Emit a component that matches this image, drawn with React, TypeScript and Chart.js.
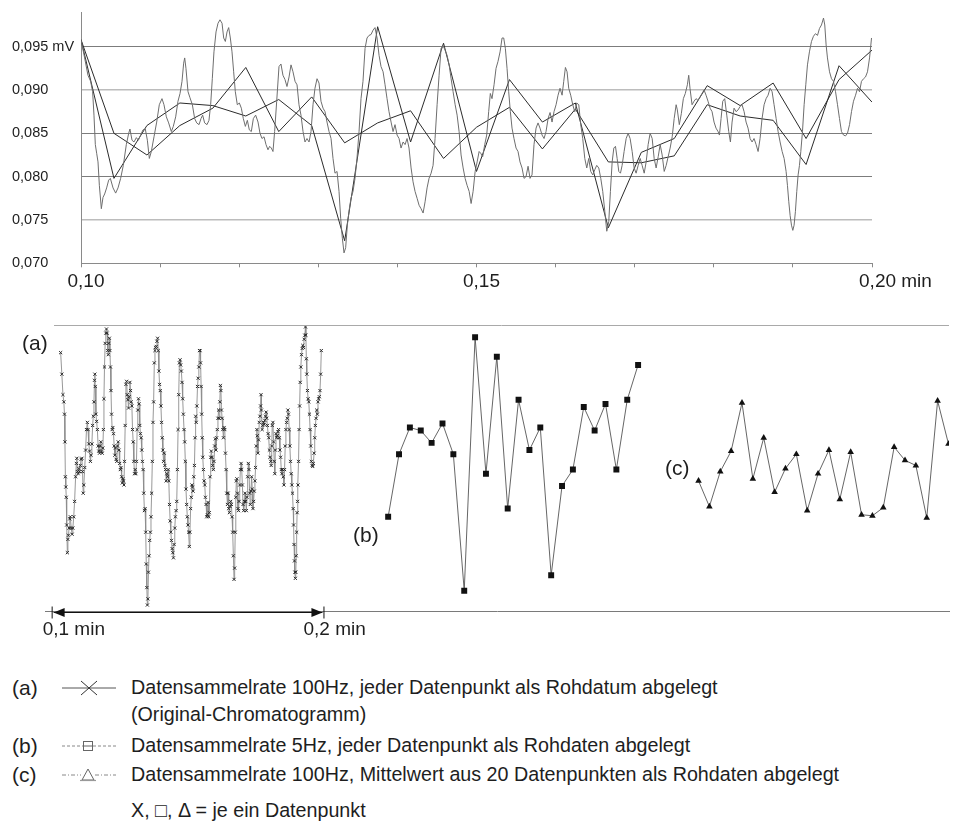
import React, { useEffect, useRef } from "react";
import { Chart, registerables } from "chart.js";

Chart.register(...registerables);

const FONT = "'Liberation Sans', Arial, Helvetica, sans-serif";
const INK = "#1e1e1e";

// Raw detector signal, 100 Hz, [time in min, signal in mV]
const rawTrace: [number, number][] = [
  [0.10000, 0.0958], [0.10046, 0.0937], [0.10088, 0.0917], [0.10122, 0.0910], [0.10147, 0.0898],
  [0.10164, 0.0871], [0.10181, 0.0837], [0.10198, 0.0827], [0.10215, 0.0817], [0.10232, 0.0790],
  [0.10257, 0.0763], [0.10278, 0.0776], [0.10299, 0.0780], [0.10324, 0.0787], [0.10350, 0.0796],
  [0.10371, 0.0798], [0.10405, 0.0787], [0.10438, 0.0781], [0.10468, 0.0787], [0.10501, 0.0798],
  [0.10535, 0.0813], [0.10573, 0.0837], [0.10603, 0.0850], [0.10619, 0.0855], [0.10645, 0.0842],
  [0.10670, 0.0840], [0.10700, 0.0845], [0.10725, 0.0842], [0.10754, 0.0848], [0.10784, 0.0854],
  [0.10813, 0.0855], [0.10839, 0.0842], [0.10864, 0.0821], [0.10889, 0.0829], [0.10923, 0.0846],
  [0.10957, 0.0863], [0.10990, 0.0883], [0.11024, 0.0890], [0.11049, 0.0883], [0.11079, 0.0869],
  [0.11108, 0.0862], [0.11142, 0.0852], [0.11167, 0.0858], [0.11197, 0.0869], [0.11226, 0.0887],
  [0.11252, 0.0896], [0.11277, 0.0910], [0.11298, 0.0931], [0.11311, 0.0937], [0.11327, 0.0925],
  [0.11353, 0.0898], [0.11378, 0.0891], [0.11408, 0.0883], [0.11437, 0.0867], [0.11463, 0.0862],
  [0.11492, 0.0860], [0.11517, 0.0867], [0.11538, 0.0871], [0.11563, 0.0862], [0.11593, 0.0860],
  [0.11618, 0.0865], [0.11639, 0.0883], [0.11660, 0.0913], [0.11681, 0.0944], [0.11707, 0.0967],
  [0.11732, 0.0977], [0.11757, 0.0981], [0.11783, 0.0977], [0.11804, 0.0960], [0.11825, 0.0956],
  [0.11846, 0.0967], [0.11867, 0.0972], [0.11888, 0.0960], [0.11909, 0.0944], [0.11930, 0.0921],
  [0.11951, 0.0898], [0.11976, 0.0883], [0.12002, 0.0885], [0.12027, 0.0879], [0.12052, 0.0867],
  [0.12078, 0.0858], [0.12103, 0.0865], [0.12128, 0.0854], [0.12153, 0.0852], [0.12179, 0.0867],
  [0.12208, 0.0871], [0.12238, 0.0863], [0.12263, 0.0850], [0.12288, 0.0844], [0.12314, 0.0846],
  [0.12339, 0.0837], [0.12364, 0.0831], [0.12385, 0.0835], [0.12406, 0.0833], [0.12427, 0.0829],
  [0.12448, 0.0852], [0.12474, 0.0887], [0.12503, 0.0927], [0.12528, 0.0930], [0.12553, 0.0917],
  [0.12579, 0.0912], [0.12604, 0.0904], [0.12630, 0.0915], [0.12655, 0.0929], [0.12680, 0.0921],
  [0.12706, 0.0910], [0.12731, 0.0906], [0.12756, 0.0883], [0.12781, 0.0871], [0.12807, 0.0852],
  [0.12832, 0.0840], [0.12857, 0.0844], [0.12883, 0.0840], [0.12908, 0.0852], [0.12933, 0.0883],
  [0.12958, 0.0902], [0.12984, 0.0913], [0.13009, 0.0908], [0.13034, 0.0887], [0.13060, 0.0879],
  [0.13085, 0.0875], [0.13110, 0.0863], [0.13136, 0.0852], [0.13161, 0.0844], [0.13186, 0.0821],
  [0.13211, 0.0804], [0.13237, 0.0806], [0.13262, 0.0783], [0.13283, 0.0752], [0.13304, 0.0729],
  [0.13325, 0.0712], [0.13346, 0.0718], [0.13367, 0.0744], [0.13388, 0.0760], [0.13413, 0.0775],
  [0.13439, 0.0783], [0.13464, 0.0798], [0.13489, 0.0821], [0.13515, 0.0852], [0.13540, 0.0890],
  [0.13565, 0.0910], [0.13591, 0.0948], [0.13616, 0.0960], [0.13641, 0.0963], [0.13667, 0.0964],
  [0.13692, 0.0969], [0.13717, 0.0972], [0.13743, 0.0960], [0.13768, 0.0940], [0.13793, 0.0927],
  [0.13819, 0.0921], [0.13844, 0.0906], [0.13869, 0.0890], [0.13894, 0.0875], [0.13920, 0.0863],
  [0.13945, 0.0852], [0.13970, 0.0860], [0.13996, 0.0848], [0.14021, 0.0844], [0.14046, 0.0833],
  [0.14072, 0.0840], [0.14097, 0.0837], [0.14122, 0.0844], [0.14147, 0.0833], [0.14173, 0.0810],
  [0.14198, 0.0794], [0.14223, 0.0783], [0.14249, 0.0775], [0.14274, 0.0767], [0.14299, 0.0763],
  [0.14325, 0.0758], [0.14350, 0.0771], [0.14375, 0.0787], [0.14400, 0.0798], [0.14426, 0.0804],
  [0.14451, 0.0813], [0.14476, 0.0844], [0.14502, 0.0883], [0.14527, 0.0917], [0.14552, 0.0948],
  [0.14578, 0.0951], [0.14603, 0.0946], [0.14628, 0.0940], [0.14654, 0.0929], [0.14679, 0.0913],
  [0.14704, 0.0898], [0.14730, 0.0883], [0.14755, 0.0871], [0.14780, 0.0852], [0.14805, 0.0825],
  [0.14831, 0.0810], [0.14856, 0.0798], [0.14881, 0.0790], [0.14907, 0.0783], [0.14932, 0.0769],
  [0.14957, 0.0783], [0.14983, 0.0806], [0.15008, 0.0817], [0.15033, 0.0829], [0.15053, 0.0827],
  [0.15078, 0.0823], [0.15104, 0.0837], [0.15129, 0.0848], [0.15154, 0.0875], [0.15175, 0.0896],
  [0.15196, 0.0890], [0.15222, 0.0906], [0.15247, 0.0925], [0.15272, 0.0933], [0.15298, 0.0944],
  [0.15323, 0.0960], [0.15344, 0.0960], [0.15365, 0.0948], [0.15386, 0.0925], [0.15407, 0.0898],
  [0.15428, 0.0875], [0.15449, 0.0856], [0.15474, 0.0844], [0.15500, 0.0833], [0.15525, 0.0829],
  [0.15550, 0.0817], [0.15576, 0.0810], [0.15601, 0.0798], [0.15626, 0.0800], [0.15652, 0.0812],
  [0.15677, 0.0798], [0.15702, 0.0802], [0.15727, 0.0837], [0.15753, 0.0856], [0.15778, 0.0862],
  [0.15803, 0.0856], [0.15829, 0.0848], [0.15854, 0.0844], [0.15879, 0.0852], [0.15905, 0.0867],
  [0.15930, 0.0874], [0.15955, 0.0863], [0.15980, 0.0875], [0.16006, 0.0883], [0.16031, 0.0894],
  [0.16056, 0.0902], [0.16082, 0.0894], [0.16103, 0.0910], [0.16124, 0.0926], [0.16145, 0.0921],
  [0.16166, 0.0902], [0.16191, 0.0894], [0.16217, 0.0883], [0.16242, 0.0875], [0.16267, 0.0885],
  [0.16293, 0.0883], [0.16318, 0.0860], [0.16343, 0.0844], [0.16369, 0.0821], [0.16394, 0.0810],
  [0.16419, 0.0821], [0.16444, 0.0806], [0.16470, 0.0802], [0.16495, 0.0808], [0.16520, 0.0813],
  [0.16546, 0.0810], [0.16571, 0.0798], [0.16596, 0.0783], [0.16622, 0.0760], [0.16647, 0.0737],
  [0.16672, 0.0748], [0.16693, 0.0783], [0.16715, 0.0817], [0.16736, 0.0833], [0.16757, 0.0835],
  [0.16778, 0.0821], [0.16799, 0.0806], [0.16820, 0.0804], [0.16841, 0.0813], [0.16866, 0.0829],
  [0.16892, 0.0844], [0.16917, 0.0850], [0.16942, 0.0844], [0.16968, 0.0829], [0.16993, 0.0810],
  [0.17018, 0.0804], [0.17044, 0.0813], [0.17069, 0.0821], [0.17094, 0.0813], [0.17120, 0.0804],
  [0.17145, 0.0817], [0.17170, 0.0837], [0.17195, 0.0850], [0.17221, 0.0844], [0.17246, 0.0821],
  [0.17271, 0.0810], [0.17297, 0.0823], [0.17322, 0.0837], [0.17347, 0.0825], [0.17373, 0.0806],
  [0.17398, 0.0813], [0.17423, 0.0823], [0.17448, 0.0833], [0.17474, 0.0846], [0.17499, 0.0867],
  [0.17524, 0.0883], [0.17539, 0.0877], [0.17564, 0.0860], [0.17590, 0.0873], [0.17615, 0.0890],
  [0.17640, 0.0896], [0.17666, 0.0906], [0.17683, 0.0917], [0.17699, 0.0902], [0.17725, 0.0883],
  [0.17750, 0.0887], [0.17775, 0.0890], [0.17801, 0.0888], [0.17826, 0.0892], [0.17851, 0.0896],
  [0.17877, 0.0900], [0.17902, 0.0894], [0.17927, 0.0887], [0.17953, 0.0879], [0.17978, 0.0875],
  [0.18003, 0.0863], [0.18028, 0.0856], [0.18054, 0.0852], [0.18071, 0.0848], [0.18092, 0.0867],
  [0.18113, 0.0887], [0.18138, 0.0890], [0.18164, 0.0871], [0.18189, 0.0852], [0.18210, 0.0840],
  [0.18231, 0.0863], [0.18256, 0.0879], [0.18282, 0.0875], [0.18307, 0.0877], [0.18332, 0.0881],
  [0.18357, 0.0883], [0.18383, 0.0875], [0.18408, 0.0863], [0.18433, 0.0856], [0.18459, 0.0844],
  [0.18484, 0.0840], [0.18509, 0.0844], [0.18535, 0.0837], [0.18560, 0.0829], [0.18585, 0.0844],
  [0.18610, 0.0867], [0.18636, 0.0883], [0.18661, 0.0890], [0.18686, 0.0894], [0.18712, 0.0902],
  [0.18737, 0.0898], [0.18762, 0.0883], [0.18788, 0.0867], [0.18813, 0.0852], [0.18838, 0.0840],
  [0.18864, 0.0829], [0.18889, 0.0821], [0.18914, 0.0806], [0.18931, 0.0790], [0.18948, 0.0771],
  [0.18965, 0.0755], [0.18982, 0.0744], [0.18999, 0.0738], [0.19015, 0.0744], [0.19032, 0.0760],
  [0.19049, 0.0783], [0.19066, 0.0802], [0.19083, 0.0813], [0.19100, 0.0829], [0.19121, 0.0852],
  [0.19142, 0.0883], [0.19163, 0.0906], [0.19184, 0.0929], [0.19209, 0.0944], [0.19235, 0.0956],
  [0.19260, 0.0962], [0.19285, 0.0965], [0.19311, 0.0963], [0.19336, 0.0971], [0.19361, 0.0975],
  [0.19387, 0.0983], [0.19403, 0.0975], [0.19420, 0.0952], [0.19437, 0.0937], [0.19463, 0.0921],
  [0.19488, 0.0913], [0.19513, 0.0910], [0.19539, 0.0898], [0.19564, 0.0883], [0.19589, 0.0867],
  [0.19614, 0.0852], [0.19640, 0.0848], [0.19665, 0.0847], [0.19690, 0.0850], [0.19716, 0.0860],
  [0.19741, 0.0875], [0.19766, 0.0887], [0.19792, 0.0894], [0.19817, 0.0902], [0.19842, 0.0898],
  [0.19867, 0.0910], [0.19893, 0.0913], [0.19918, 0.0915], [0.19943, 0.0921], [0.19969, 0.0937],
  [0.19994, 0.0960],
];

// (b) 5 Hz samples and (c) 20-point means, one value per sample slot
const samplesB = [
  0.0958, 0.0798, 0.0859, 0.0885, 0.0882, 0.0870, 0.0889, 0.0859, 0.0726, 0.0973,
  0.0840, 0.0954, 0.0806, 0.0912, 0.0863, 0.0885, 0.0741, 0.0828, 0.0844, 0.0905,
  0.0882, 0.0908, 0.0844, 0.0912, 0.0946,
];
const samplesC = [
  0.0958, 0.0850, 0.0825, 0.0859, 0.0879, 0.0926, 0.0852, 0.0892, 0.0839, 0.0862,
  0.0876, 0.0821, 0.0857, 0.0880, 0.0832, 0.0878, 0.0817, 0.0816, 0.0824, 0.0883,
  0.0870, 0.0865, 0.0814, 0.0928, 0.0886,
];
const SAMPLE_START = 0.1; // min
const SAMPLE_STEP = 0.1 / 24; // min between stored samples

// top axis ticks
const X_TICKS = [0.1, 0.11, 0.12, 0.13, 0.14, 0.15, 0.16, 0.17, 0.18, 0.19, 0.2];
const X_LABELS = ["0,10", "", "", "", "", "0,15", "", "", "", "", "0,20 min"];
const Y_TICKS = [0.07, 0.075, 0.08, 0.085, 0.09, 0.095];
const Y_LABELS = ["0,070", "0,075", "0,080", "0,085", "0,090", "0,095 mV"];

// lower panel: the three records side by side on one time axis
const PANEL_TICKS = [0.1, 0.2];
const PANEL_LABELS = ["0,1 min", "0,2 min"];
const SHIFT_B = 0.1214;
const SHIFT_C = 0.2404;
const LIFT_C = 0.0017;

const sampleTime = (i: number) => SAMPLE_START + i * SAMPLE_STEP;

const panelFrame = {
  id: "panelFrame",
  afterDraw(chart: any) {
    const { ctx, chartArea, scales } = chart;
    const x = scales.x;
    ctx.save();
    // upper frame line
    ctx.strokeStyle = "#a9a9a9";
    ctx.lineWidth = 1;
    ctx.beginPath();
    ctx.moveTo(54, chartArea.top + 0.5);
    ctx.lineTo(chartArea.right, chartArea.top + 0.5);
    ctx.stroke();
    // 0,1 .. 0,2 min span with arrow heads
    const y = Math.round(chartArea.bottom) + 0.5;
    const xs = x.getPixelForValue(PANEL_TICKS[0]) - 7;
    const xe = x.getPixelForValue(PANEL_TICKS[1]) + 1;
    ctx.strokeStyle = "#111";
    ctx.fillStyle = "#111";
    ctx.beginPath();
    ctx.moveTo(xs, y);
    ctx.lineTo(xe, y);
    ctx.moveTo(xs - 1.5, y - 6);
    ctx.lineTo(xs - 1.5, y + 6);
    ctx.moveTo(xe + 1.5, y - 6);
    ctx.lineTo(xe + 1.5, y + 6);
    ctx.stroke();
    ctx.beginPath();
    ctx.moveTo(xs, y);
    ctx.lineTo(xs + 11, y - 4.5);
    ctx.lineTo(xs + 11, y + 4.5);
    ctx.closePath();
    ctx.fill();
    ctx.beginPath();
    ctx.moveTo(xe, y);
    ctx.lineTo(xe - 11, y - 4.5);
    ctx.lineTo(xe - 11, y + 4.5);
    ctx.closePath();
    ctx.fill();
    ctx.restore();
  },
};

function TopChart() {
  const ref = useRef<HTMLCanvasElement | null>(null);
  useEffect(() => {
    if (!ref.current) return;
    const chart = new Chart(ref.current, {
      type: "line",
      data: {
        datasets: [
          {
            data: rawTrace.map(([t, v]) => ({ x: t, y: v })),
            borderColor: "#6e6e6e",
            borderWidth: 1,
            pointRadius: 0,
          },
          {
            data: samplesB.map((v, i) => ({ x: sampleTime(i), y: v })),
            borderColor: "#2b2b2b",
            borderWidth: 1,
            pointRadius: 0,
          },
          {
            data: samplesC.map((v, i) => ({ x: sampleTime(i), y: v })),
            borderColor: "#2b2b2b",
            borderWidth: 1,
            pointRadius: 0,
          },
        ],
      },
      options: {
        animation: false,
        responsive: false,
        events: [],
        layout: { padding: { left: 12, right: 82, top: 12, bottom: 0 } },
        plugins: { legend: { display: false }, tooltip: { enabled: false } },
        scales: {
          x: {
            type: "linear",
            min: 0.1,
            max: 0.2,
            afterBuildTicks: (s: any) => {
              s.ticks = X_TICKS.map((v) => ({ value: v }));
            },
            afterFit: (s: any) => {
              s.height = 36.7;
            },
            grid: { drawOnChartArea: false, drawTicks: true, tickLength: 4, color: "#8a8a8a" },
            border: { color: "#8a8a8a" },
            ticks: {
              autoSkip: false,
              maxRotation: 0,
              padding: 3,
              labelOffset: 5,
              color: INK,
              font: { family: FONT, size: 19 },
              callback: (_v: any, i: number) =>
                i === X_LABELS.length - 1 ? "       " + X_LABELS[i] : X_LABELS[i],
            },
          },
          y: {
            type: "linear",
            min: 0.07,
            max: 0.099,
            afterBuildTicks: (s: any) => {
              s.ticks = Y_TICKS.map((v) => ({ value: v }));
            },
            afterFit: (s: any) => {
              s.width = 69;
            },
            grid: {
              drawTicks: false,
              color: (c: any) => {
                const k = Math.round((c.tick?.value ?? 0) * 1000);
                if (k === 70) return "rgba(0,0,0,0)";
                return k === 90 || k === 75 ? "#bcbcbc" : "#7c7c7c";
              },
              lineWidth: (c: any) => {
                const k = Math.round((c.tick?.value ?? 0) * 1000);
                return k === 90 || k === 75 ? 1.6 : 1;
              },
            },
            border: { color: "#8a8a8a" },
            ticks: {
              crossAlign: "far",
              padding: 0,
              color: INK,
              font: { family: FONT, size: 14.5 },
              callback: (_v: any, i: number) => Y_LABELS[i],
            },
          },
        },
      },
    } as any);
    return () => chart.destroy();
  }, []);
  return (
    <canvas
      ref={ref}
      width={954}
      height={300}
      style={{ position: "absolute", left: 0, top: 0, width: 954, height: 300 }}
    />
  );
}

function PanelChart() {
  const ref = useRef<HTMLCanvasElement | null>(null);
  useEffect(() => {
    if (!ref.current) return;
    const chart = new Chart(ref.current, {
      type: "line",
      data: {
        datasets: [
          {
            data: rawTrace.map(([t, v]) => ({ x: t, y: v })),
            borderColor: "#8c8c8c",
            borderWidth: 0.9,
            pointStyle: "crossRot",
            pointRadius: 2.2,
            pointBorderWidth: 1,
            pointBorderColor: "#2a2a2a",
          },
          {
            data: samplesB.slice(1).map((v, i) => ({ x: sampleTime(i + 1) + SHIFT_B, y: v })),
            borderColor: "#555",
            borderWidth: 0.9,
            pointStyle: "rect",
            pointRadius: 4.2,
            pointBorderWidth: 0,
            pointBackgroundColor: "#111",
          },
          {
            data: samplesC.slice(1).map((v, i) => ({ x: sampleTime(i + 1) + SHIFT_C, y: v })),
            yAxisID: "yc",
            borderColor: "#555",
            borderWidth: 0.9,
            pointStyle: "triangle",
            pointRadius: 3.8,
            pointBorderWidth: 0,
            pointBackgroundColor: "#111",
          },
        ],
      },
      options: {
        animation: false,
        responsive: false,
        events: [],
        layout: { padding: { left: 45, right: 2, top: 25, bottom: 0 } },
        plugins: { legend: { display: false }, tooltip: { enabled: false } },
        scales: {
          x: {
            type: "linear",
            min: 0.094,
            max: 0.4406,
            afterBuildTicks: (s: any) => {
              s.ticks = PANEL_TICKS.map((v) => ({ value: v }));
            },
            afterFit: (s: any) => {
              s.height = 38.3;
            },
            grid: { display: false, drawTicks: false },
            border: { color: "#7a7a7a" },
            ticks: {
              autoSkip: false,
              maxRotation: 0,
              align: "start",
              labelOffset: -18,
              padding: 7,
              color: INK,
              font: { family: FONT, size: 19 },
              callback: (_v: any, i: number) => PANEL_LABELS[i],
            },
          },
          y: { type: "linear", display: false, min: 0.07055, max: 0.09849 },
          yc: { type: "linear", display: false, min: 0.07055 + LIFT_C, max: 0.09849 + LIFT_C },
        },
      },
      plugins: [panelFrame],
    } as any);
    return () => chart.destroy();
  }, []);
  return (
    <canvas
      ref={ref}
      width={954}
      height={350}
      style={{ position: "absolute", left: 0, top: 300, width: 954, height: 350 }}
    />
  );
}

const textStyle = (left: number, centerY: number, size: number): React.CSSProperties => ({
  position: "absolute",
  left,
  top: centerY - size * 0.6,
  fontFamily: FONT,
  fontSize: size,
  lineHeight: `${size * 1.2}px`,
  color: INK,
  whiteSpace: "nowrap",
});

function SymA() {
  return (
    <svg width={54} height={20} style={{ position: "absolute", left: 62, top: -10 }}>
      <line x1={0} y1={10} x2={54} y2={10} stroke="#555" strokeWidth={1} />
      <line x1={19} y1={3} x2={35} y2={17} stroke="#333" strokeWidth={1} />
      <line x1={19} y1={17} x2={35} y2={3} stroke="#333" strokeWidth={1} />
    </svg>
  );
}

function SymB() {
  return (
    <svg width={54} height={20} style={{ position: "absolute", left: 62, top: -10 }}>
      <line x1={0} y1={10} x2={21} y2={10} stroke="#888" strokeWidth={1} strokeDasharray="3 2" />
      <line x1={31} y1={10} x2={54} y2={10} stroke="#888" strokeWidth={1} strokeDasharray="3 2" />
      <rect x={21.5} y={5.5} width={9} height={9} fill="none" stroke="#666" strokeWidth={1} />
      <line x1={21.5} y1={10} x2={30.5} y2={10} stroke="#666" strokeWidth={1} />
    </svg>
  );
}

function SymC() {
  return (
    <svg width={54} height={20} style={{ position: "absolute", left: 62, top: -10 }}>
      <line x1={0} y1={10} x2={19} y2={10} stroke="#888" strokeWidth={1} strokeDasharray="4 2 1 2" />
      <line x1={33} y1={10} x2={54} y2={10} stroke="#888" strokeWidth={1} strokeDasharray="4 2 1 2" />
      <polygon points="26,4 20,15 32,15" fill="none" stroke="#666" strokeWidth={1} />
      <line x1={18} y1={15.5} x2={34} y2={15.5} stroke="#999" strokeWidth={1.2} />
    </svg>
  );
}

const LEGEND_ROWS = [
  { tag: "(a)", y: 688, text: "Datensammelrate 100Hz, jeder Datenpunkt als Rohdatum abgelegt", sym: "a" },
  { tag: "", y: 715, text: "(Original-Chromatogramm)", sym: "" },
  { tag: "(b)", y: 746, text: "Datensammelrate 5Hz, jeder Datenpunkt als Rohdaten abgelegt", sym: "b" },
  { tag: "(c)", y: 775, text: "Datensammelrate 100Hz, Mittelwert aus 20 Datenpunkten als Rohdaten abgelegt", sym: "c" },
  { tag: "", y: 811, text: "X, \u25A1, \u0394 = je ein Datenpunkt", sym: "" },
];

export default function App() {
  useEffect(() => {
    document.body.style.margin = "0";
    document.body.style.background = "#fff";
  }, []);
  return (
    <div style={{ position: "relative", width: 954, height: 835, background: "#fff", overflow: "hidden" }}>
      <TopChart />
      <PanelChart />
      <div style={textStyle(22, 343, 21)}>(a)</div>
      <div style={textStyle(353, 535, 21)}>(b)</div>
      <div style={textStyle(665, 468, 21)}>(c)</div>
      {LEGEND_ROWS.map((r, i) => (
        <React.Fragment key={i}>
          {r.tag && <div style={textStyle(12, r.y, 21)}>{r.tag}</div>}
          {r.sym && (
            <div style={{ position: "absolute", left: 0, top: r.y, width: 0, height: 0 }}>
              {r.sym === "a" ? <SymA /> : r.sym === "b" ? <SymB /> : <SymC />}
            </div>
          )}
          <div style={textStyle(131, r.y, 19.7)}>{r.text}</div>
        </React.Fragment>
      ))}
    </div>
  );
}
